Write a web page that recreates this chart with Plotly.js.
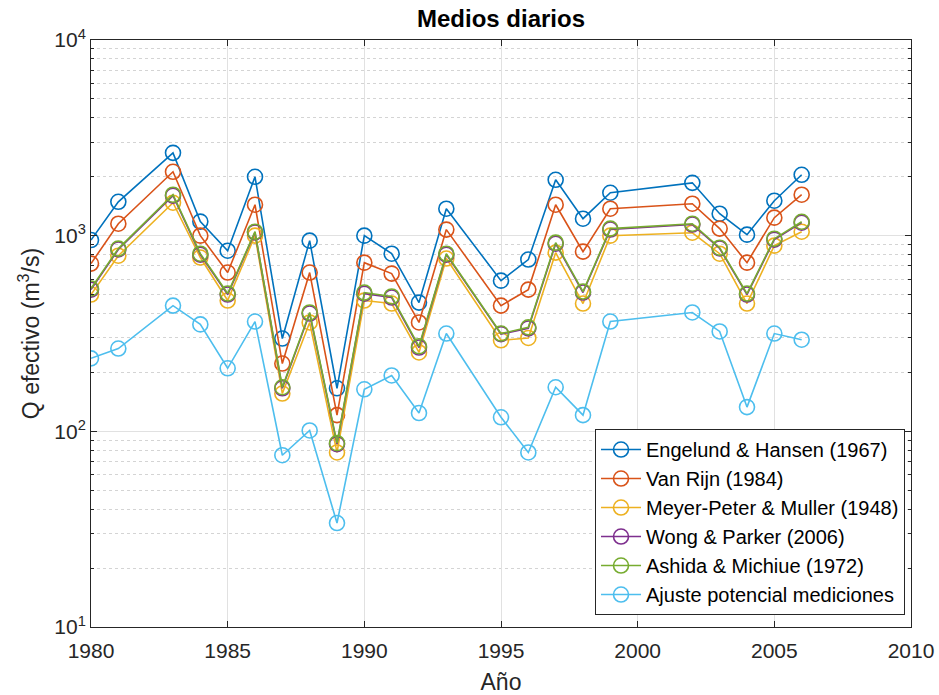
<!DOCTYPE html>
<html>
<head>
<meta charset="utf-8">
<script src="https://cdn.plot.ly/plotly-3.0.1.min.js"></script>
<style>html,body{margin:0;padding:0;background:#fff;}#chart{width:939px;height:695px;}</style>
</head>
<body>
<div id="chart"></div>
<script>
const years = [1980,1981,1983,1984,1985,1986,1987,1988,1989,1990,1991,1992,1993,1995,1996,1997,1998,1999,2002,2003,2004,2005,2006];
const engelund = [950,1490,2650,1180,838,2000,298,943,166,1000,809,455,1373,589,755,1930,1221,1657,1862,1295,1012,1509,2047];
const vanRijn = [720,1151,2121,1000,648,1439,222,648,121,728,640,360,1074,439,530,1439,829,1373,1456,1087,728,1236,1619];
const meyerPeter = [500,790,1473,773,466,1000,156,360,78,466,450,253,764,292,300,819,450,1000,1035,809,450,889,1048];
const wongParker = [530,850,1600,800,500,1040,166,400,86,505,483,268,800,314,336,910,512,1075,1140,860,500,955,1165];
const ashida = [537,859,1619,809,506,1048,168,405,87,512,489,272,809,316,340,921,518,1087,1151,868,506,965,1178];
const ajuste = [236,265,439,352,210,364,75.5,101,34,164,193,124,316,118,78,168,121,364,405,324,133,316,294];
const names = ['Engelund & Hansen (1967)','Van Rijn (1984)','Meyer-Peter & Muller (1948)','Wong & Parker (2006)','Ashida & Michiue (1972)','Ajuste potencial mediciones'];
const colors = ['#0072BD','#D95319','#EDB120','#7E2F8E','#77AC30','#4DBEEE'];
const series = [engelund, vanRijn, meyerPeter, wongParker, ashida, ajuste];
const yTickVals = [10,100,1000,10000];
const yTickText = ['10<sup>1</sup>','10<sup>2</sup>','10<sup>3</sup>','10<sup>4</sup>'];
const xTickVals = [1980,1985,1990,1995,2000,2005,2010];

const minorVals = [];
for (let e = 1; e <= 3; e++) for (let m = 2; m <= 9; m++) minorVals.push(m * Math.pow(10, e));

const traces = series.map((s, i) => ({
  x: years, y: s, name: names[i], type: 'scatter', mode: 'lines+markers',
  line: {color: colors[i], width: 1.6},
  marker: {symbol: 'circle-open', size: 15, color: colors[i], line: {width: 1.6, color: colors[i]}}
}));

const font = {family: 'Liberation Sans, Arial, sans-serif', color: '#262626'};
const layout = {
  width: 939, height: 695,
  margin: {l: 91, r: 28, t: 40, b: 68},
  paper_bgcolor: '#fff', plot_bgcolor: '#fff',
  font: Object.assign({size: 21}, font),
  title: {text: '<b>Medios diarios</b>', xref: 'paper', x: 0.5, xanchor: 'center', yref: 'container', y: 0.973, yanchor: 'middle', font: Object.assign({}, font, {size: 24, color: '#000'})},
  showlegend: true,
  legend: {x: 0.9927, y: 0.0204, xanchor: 'right', yanchor: 'bottom', bgcolor: '#fff', bordercolor: '#262626', borderwidth: 1, font: Object.assign({}, font, {size: 20, color: '#000'}), tracegroupgap: 0, itemwidth: 40},
  xaxis: {
    range: [1980, 2010], tickvals: xTickVals, ticks: 'inside', ticklen: 6, tickcolor: '#262626',
    showline: true, linecolor: '#262626', linewidth: 1, mirror: 'ticks',
    showgrid: true, gridcolor: '#e1e1e1', gridwidth: 1, zeroline: false,
    tickfont: Object.assign({}, font, {size: 21}), ticklabelstandoff: 5,
    title: {text: 'Año', font: Object.assign({}, font, {size: 23}), standoff: 12}
  },
  yaxis: {
    type: 'log', range: [1, 4], tickvals: yTickVals, ticktext: yTickText, ticks: 'inside', ticklen: 6, tickcolor: '#262626',
    showline: true, linecolor: '#262626', linewidth: 1, mirror: 'ticks',
    showgrid: true, gridcolor: '#e1e1e1', gridwidth: 1, zeroline: false,
    tickfont: Object.assign({}, font, {size: 21}),
    minor: {tickmode: 'array', tickvals: minorVals, ticks: 'inside', ticklen: 3, tickcolor: '#262626', showgrid: true, gridcolor: '#d4d4d4', griddash: 'dot', gridwidth: 1},
    title: {text: 'Q efectivo (m<sup>3</sup>/s)', font: Object.assign({}, font, {size: 23}), standoff: 8}
  }
};
Plotly.newPlot('chart', traces, layout, {displayModeBar: false, staticPlot: true});
</script>
</body>
</html>
